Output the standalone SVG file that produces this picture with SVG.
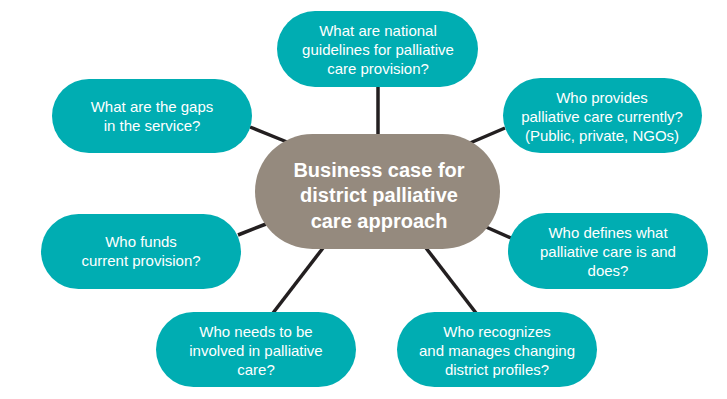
<svg xmlns="http://www.w3.org/2000/svg" width="727" height="399" viewBox="0 0 727 399">
<style>
.q rect{fill:#00adb2;}
.q text{font-family:"Liberation Sans",Arial,sans-serif;font-size:15px;fill:#ffffff;text-anchor:middle;}
.c rect{fill:#958a7e;}
.c text{font-family:"Liberation Sans",Arial,sans-serif;font-size:20px;font-weight:bold;fill:#ffffff;text-anchor:middle;}
#connectors line{stroke:#231f20;stroke-width:3.5;}
</style>
<rect width="727" height="399" fill="#ffffff"/>
<g id="connectors">
<line x1="378" y1="86" x2="378" y2="136"/>
<line x1="470" y1="143" x2="505" y2="128"/>
<line x1="250" y1="127" x2="287" y2="142"/>
<line x1="238" y1="235" x2="266" y2="224"/>
<line x1="486" y1="227" x2="511" y2="238"/>
<line x1="323" y1="248" x2="273" y2="313"/>
<line x1="426" y1="248" x2="476" y2="313"/>
</g>
<g id="center" class="c">
<rect x="255" y="134" width="245" height="115" rx="57.5"/>
<text x="379" y="177">Business case for</text>
<text x="379" y="202">district palliative</text>
<text x="379" y="228">care approach</text>
</g>
<g id="n-guidelines" class="q">
<rect x="277" y="11" width="201" height="76" rx="38"/>
<text x="378" y="36">What are national</text>
<text x="378" y="55">guidelines for palliative</text>
<text x="378" y="74">care provision?</text>
</g>
<g id="n-provides" class="q">
<rect x="503" y="78" width="199" height="75" rx="37.5"/>
<text x="602" y="103">Who provides</text>
<text x="602" y="122">palliative care currently?</text>
<text x="602" y="141">(Public, private, NGOs)</text>
</g>
<g id="n-gaps" class="q">
<rect x="52" y="79" width="200" height="74" rx="37"/>
<text x="152" y="112">What are the gaps</text>
<text x="152" y="131">in the service?</text>
</g>
<g id="n-funds" class="q">
<rect x="41" y="214" width="200" height="75" rx="37.5"/>
<text x="141" y="247">Who funds</text>
<text x="141" y="266">current provision?</text>
</g>
<g id="n-defines" class="q">
<rect x="508" y="213" width="200" height="76" rx="38"/>
<text x="608" y="238">Who defines what</text>
<text x="608" y="257">palliative care is and</text>
<text x="608" y="276">does?</text>
</g>
<g id="n-needs" class="q">
<rect x="156" y="312" width="200" height="75" rx="37.5"/>
<text x="256" y="337">Who needs to be</text>
<text x="256" y="356">involved in palliative</text>
<text x="256" y="375">care?</text>
</g>
<g id="n-recognizes" class="q">
<rect x="397" y="312" width="200" height="75" rx="37.5"/>
<text x="497" y="337">Who recognizes</text>
<text x="497" y="356">and manages changing</text>
<text x="497" y="375">district profiles?</text>
</g>
</svg>
